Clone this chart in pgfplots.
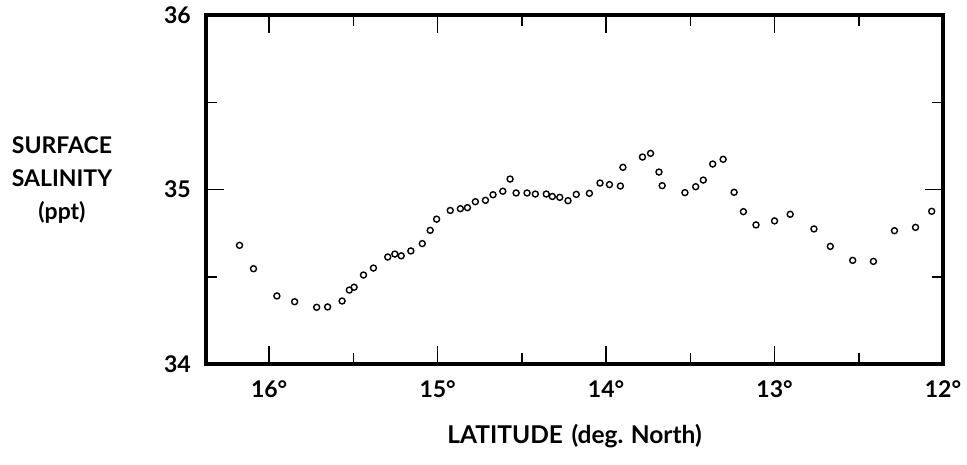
\documentclass[border=0pt]{standalone}
\usepackage{fontspec}
\setmainfont{Lato}
\usepackage{pgfplots}
\pgfplotsset{compat=1.18}
\begin{document}
\begin{tikzpicture}[x=1pt,y=1pt]
\path[use as bounding box] (-206,-100) rectangle (761,364);
\begin{axis}[
  at={(0,0)}, anchor=south west,
  scale only axis, width=737pt, height=349pt,
  xmin=12, xmax=16.375, x dir=reverse,
  ymin=34, ymax=36,
  xtick={12,13,14,15,16}, xticklabels={12°,13°,14°,15°,16°},
  minor xtick={12.5,13.5,14.5,15.5},
  ytick={34,35,36}, yticklabels={34,35,36},
  minor ytick={34.5,35.5},
  tick align=inside,
  major tick length=18pt, minor tick length=11pt,
  axis line style={line width=4pt},
  every tick/.style={black, line width=1.5pt},
  ticklabel style={font=\fontsize{23}{27}\selectfont\bfseries},
  xticklabel style={inner sep=0pt, anchor=north, yshift=-16pt},
  yticklabel style={inner sep=0pt, anchor=east, xshift=-15pt},
  xlabel={LATITUDE\hspace{0.35em}(deg.\hspace{0.3em}North)},
  xlabel style={font=\fontsize{24.5}{28}\selectfont\bfseries, at={(axis description cs:0.5,0)}, anchor=center, yshift=-72pt},
  ylabel={SURFACE\\SALINITY\\(ppt)},
  ylabel style={font=\fontsize{23}{33}\selectfont\bfseries, rotate=-90, align=center, at={(axis description cs:0,0)}, anchor=center, xshift=-144pt, yshift=184pt},
  clip=false,
]
\addplot[only marks, mark=o, mark size=3pt, mark options={line width=1.4pt, black}] coordinates {
(16.176,34.68) (16.093,34.546) (15.954,34.39) (15.849,34.357) (15.718,34.325)
(15.653,34.327) (15.567,34.361) (15.524,34.424) (15.496,34.44) (15.44,34.51)
(15.381,34.55) (15.296,34.613) (15.254,34.63) (15.216,34.62) (15.159,34.648)
(15.091,34.69) (15.044,34.766) (15.006,34.83) (14.925,34.88) (14.865,34.89)
(14.823,34.896) (14.776,34.93) (14.716,34.938) (14.671,34.97) (14.613,34.99)
(14.57,35.06) (14.534,34.98) (14.469,34.98) (14.42,34.974) (14.355,34.974)
(14.319,34.96) (14.275,34.955) (14.226,34.936) (14.177,34.972) (14.099,34.978)
(14.036,35.037) (13.98,35.028) (13.915,35.02) (13.9,35.127) (13.784,35.186)
(13.736,35.207) (13.686,35.1) (13.667,35.022) (13.532,34.982) (13.468,35.016)
(13.423,35.054) (13.367,35.146) (13.305,35.173) (13.24,34.984) (13.185,34.873)
(13.11,34.797) (13.0,34.82) (12.907,34.858) (12.766,34.774) (12.669,34.674)
(12.536,34.594) (12.413,34.588) (12.288,34.764) (12.163,34.783) (12.067,34.875)
};
\end{axis}
\end{tikzpicture}
\end{document}
